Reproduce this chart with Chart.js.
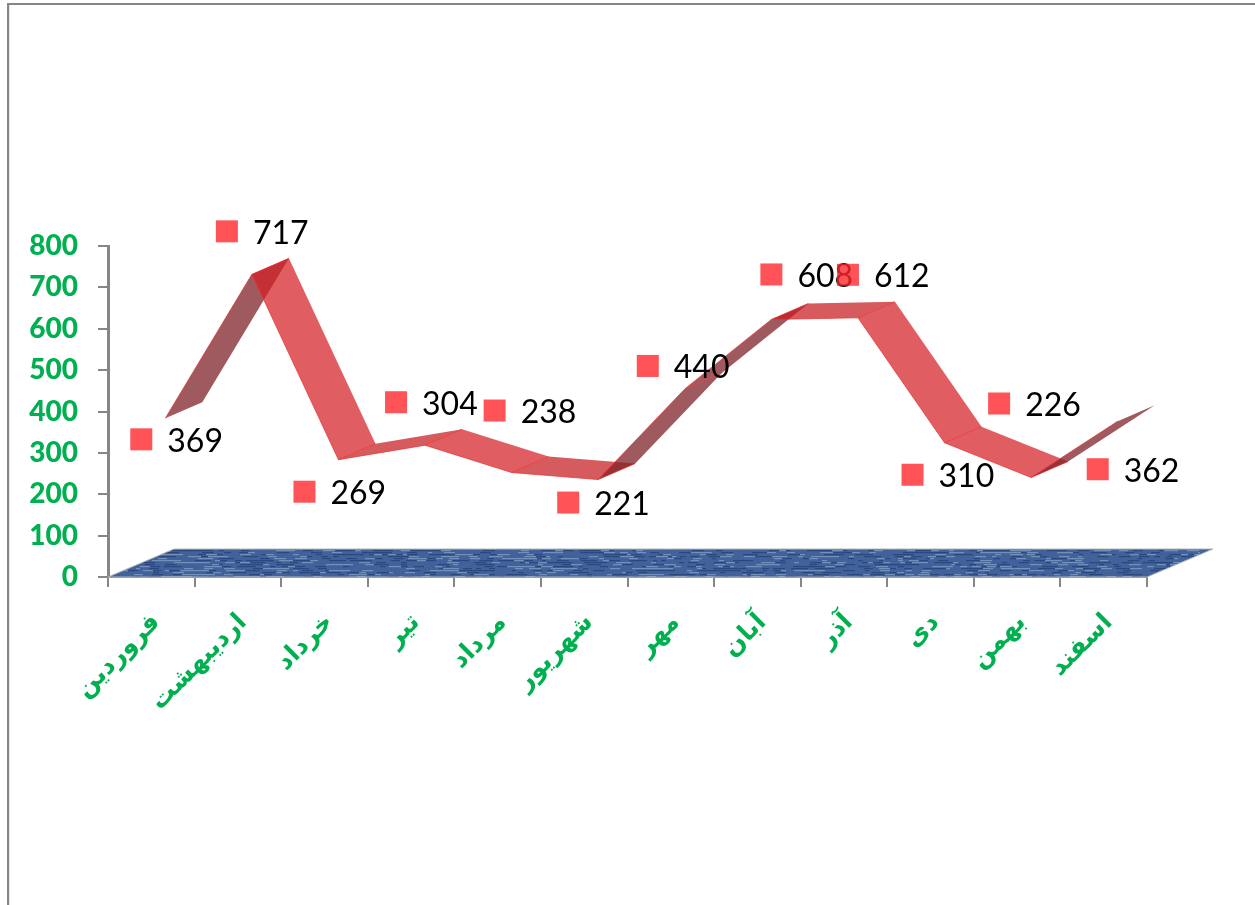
<!DOCTYPE html>
<html lang="fa">
<head>
<meta charset="utf-8">
<title>chart</title>
<script src="https://cdn.jsdelivr.net/npm/chart.js@4/dist/chart.umd.min.js"></script>
<style>
    body { margin: 0; background: #fff; overflow: hidden; }
    canvas { display: block; }
    #frame {
        position: absolute; left: 7px; top: 3px; width: 1248px; height: 902px;
        box-sizing: border-box; border-left: 2px solid #868686; border-top: 2px solid #868686;
        box-shadow: inset 1px 0 0 #e8e8e8;
        pointer-events: none;
    }
</style>
</head>
<body>
<canvas id="chart" width="1255" height="905"></canvas>
<div id="frame"></div>
<script>
//Data
const months = ['فروردین', 'اردیبهشت', 'خرداد', 'تیر', 'مرداد', 'شهریور', 'مهر', 'آبان', 'آذر', 'دی', 'بهمن', 'اسفند'];
const values = [369, 717, 269, 304, 238, 221, 440, 608, 612, 310, 226, 362];
const yTicks = [0, 100, 200, 300, 400, 500, 600, 700, 800];

//Where each hand placed label sits, relative to its point (px)
const labelShift = [
    [-10, 15], [-11, -49], [-20, 26], [-15, -49], [-3, -68], [-16, 17],
    [-23, -29], [14, -51], [4, -49], [-18, 26], [-18, -80], [-6, 42]
];

const axisGray = '#868686';
const green = '#00B050';

//3D look of the ribbon and the floor
const ribbonFront = { x: 14, y: -6 };
const ribbonDepth = { x: 37, y: -16 };
const floorDepth = { x: 66, y: -28 };

function floorPattern(ctx) {
    let c = document.createElement('canvas');
    c.width = 1200;
    c.height = 60;
    let g = c.getContext('2d');
    g.fillStyle = '#41629b';
    g.fillRect(0, 0, 1200, 60);
    g.filter = 'blur(0.5px)';
    for (let y = 0; y < 60; y += 2) {
        let x = (y * 7) % 11;
        while (x < 1200) {
            let h = (((x + 13) * 2654435 ^ (y + 7) * 19349663) >>> 3) % 100;
            let len = 4 + h % 9;
            if (h < 30) g.fillStyle = '#2a4880';
            else if (h < 52) g.fillStyle = '#7390bd';
            else g.fillStyle = '#41629b';
            g.fillRect(x, y, len, 1.2);
            x += len;
        }
    }
    return ctx.createPattern(c, 'repeat');
}

function poly(ctx, pts) {
    ctx.beginPath();
    pts.forEach((p, i) => i ? ctx.lineTo(p[0], p[1]) : ctx.moveTo(p[0], p[1]));
    ctx.closePath();
}

const ribbonPlugin = {
    id: 'ribbon',
    beforeDatasetsDraw(chart) {
        let ctx = chart.ctx;
        let { left, right, bottom } = chart.chartArea;
        ctx.save();
        poly(ctx, [
            [left, bottom], [right, bottom],
            [right + floorDepth.x, bottom + floorDepth.y],
            [left + floorDepth.x, bottom + floorDepth.y]
        ]);
        ctx.fillStyle = floorPattern(ctx);
        ctx.fill();
        ctx.strokeStyle = '#b4b6ba';
        ctx.lineWidth = 1;
        ctx.stroke();
        ctx.restore();
    },
    afterDatasetsDraw(chart) {
        let ctx = chart.ctx;
        let xs = chart.scales.x;
        let ys = chart.scales.y;
        let front = values.map((v, i) => [
            xs.getPixelForValue(i) + ribbonFront.x,
            ys.getPixelForValue(v) + ribbonFront.y
        ]);
        let back = front.map(p => [p[0] + ribbonDepth.x, p[1] + ribbonDepth.y]);

        ctx.save();
        for (let i = 0; i < front.length - 1; i++) {
            let slope = (front[i + 1][1] - front[i][1]) / (front[i + 1][0] - front[i][0]);
            let under = slope < ribbonDepth.y / ribbonDepth.x;
            if (under) ctx.fillStyle = 'rgba(125, 35, 40, 0.75)';
            else if (Math.abs(slope) < 0.3) ctx.fillStyle = 'rgba(198, 28, 32, 0.72)';
            else ctx.fillStyle = 'rgba(212, 32, 36, 0.72)';
            poly(ctx, [front[i], front[i + 1], back[i + 1], back[i]]);
            ctx.fill();

            ctx.strokeStyle = 'rgba(235, 50, 50, 0.75)';
            ctx.lineWidth = 1;
            ctx.beginPath();
            ctx.moveTo(front[i][0], front[i][1]);
            ctx.lineTo(front[i + 1][0], front[i + 1][1]);
            if (i > 0) {
                ctx.moveTo(front[i][0], front[i][1]);
                ctx.lineTo(back[i][0], back[i][1]);
            }
            ctx.stroke();
        }

        //Labels first, the squares are see through and lie over them
        let spots = values.map((v, i) => [
            xs.getPixelForValue(i) + labelShift[i][0],
            ys.getPixelForValue(v) + labelShift[i][1]
        ]);
        ctx.font = '32px Lato';
        ctx.fillStyle = '#000';
        ctx.textAlign = 'left';
        ctx.textBaseline = 'middle';
        values.forEach((v, i) => ctx.fillText(v, spots[i][0] + 26, spots[i][1] + 2));
        ctx.fillStyle = 'rgba(255, 40, 45, 0.8)';
        spots.forEach(s => ctx.fillRect(s[0] - 11, s[1] - 11, 22, 22));
        ctx.restore();
    }
};

const config = {
    type: 'line',
    data: {
        labels: months,
        datasets: [{
            label: 'series',
            data: values,
            showLine: false,
            pointRadius: 0,
            clip: false
        }]
    },
    options: {
        responsive: false,
        animation: false,
        layout: { padding: { top: 246, right: 108, left: 0, bottom: 0 } },
        plugins: {
            legend: { display: false },
            tooltip: { enabled: false }
        },
        scales: {
            x: {
                offset: true,
                afterFit(scale) { scale.height = 328; },
                grid: {
                    offset: true,
                    drawOnChartArea: false,
                    color: axisGray,
                    lineWidth: 2,
                    tickLength: 10
                },
                border: { color: axisGray, width: 2 },
                ticks: {
                    minRotation: 45,
                    maxRotation: 45,
                    autoSkip: false,
                    padding: 21,
                    labelOffset: 5,
                    color: green,
                    font: { family: 'DejaVu Sans', size: 25, weight: 'bold' }
                }
            },
            y: {
                min: 0,
                max: 800,
                afterFit(scale) { scale.width = 108; },
                afterBuildTicks(scale) { scale.ticks = yTicks.map(v => ({ value: v })); },
                grid: {
                    drawOnChartArea: false,
                    color: axisGray,
                    lineWidth: 2,
                    tickLength: 10
                },
                border: { color: axisGray, width: 3 },
                ticks: {
                    padding: 20,
                    color: green,
                    font: { family: 'Lato', size: 28, weight: '900' }
                }
            }
        }
    },
    plugins: [ribbonPlugin]
};

const myChart = new Chart(document.getElementById('chart'), config);
</script>
</body>
</html>
